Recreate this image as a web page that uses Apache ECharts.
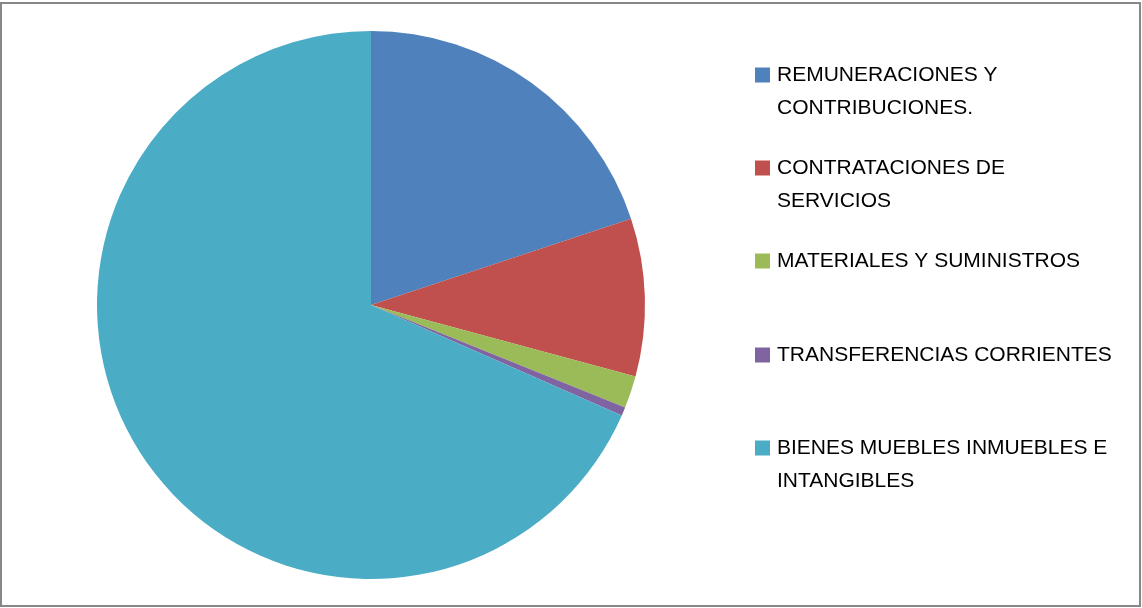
<!DOCTYPE html>
<html><head><meta charset="utf-8">
<script src="https://cdn.jsdelivr.net/npm/echarts@6/dist/echarts.min.js"></script>
<style>html,body{margin:0;padding:0;background:#fff}#c{width:1142px;height:608px}</style>
</head><body><div id="c"></div>
<script>
const categories = ['REMUNERACIONES Y CONTRIBUCIONES.', 'CONTRATACIONES DE SERVICIOS', 'MATERIALES Y SUMINISTROS', 'TRANSFERENCIAS CORRIENTES', 'BIENES MUEBLES INMUEBLES E INTANGIBLES'];
const values = [19.9, 9.3, 1.9, 0.5, 68.4];
const colors = ['#4F81BD', '#C0504D', '#9BBB59', '#8064A2', '#4BACC6'];
const firstLines = ['REMUNERACIONES Y', 'CONTRATACIONES DE', 'MATERIALES Y SUMINISTROS', 'TRANSFERENCIAS CORRIENTES', 'BIENES MUEBLES INMUEBLES E'];
const secondLines = ['CONTRIBUCIONES.', 'SERVICIOS', '', '', 'INTANGIBLES'];
const legendTops = [75, 168, 261, 355, 448];

const FF = '"Liberation Sans", Arial, sans-serif';
const FS = 21;
const chart = echarts.init(document.getElementById('c'));
const legends = categories.map((c, i) => ({
  data: [c], left: 755, top: legendTops[i] - 11, orient: 'vertical',
  itemWidth: 15, itemHeight: 15, itemGap: 0, icon: 'rect', selectedMode: false,
  padding: 0,
  formatter: () => firstLines[i],
  textStyle: {fontFamily: FF, fontSize: FS, color: '#000', lineHeight: 22, padding: [0, 0, 0, 2]}
}));
const graphics = [{type: 'rect', shape: {x: 1, y: 3, width: 1139, height: 603}, style: {fill: 'none', stroke: '#878787', lineWidth: 2}, silent: true}];
secondLines.forEach((t, i) => {
  if (t) graphics.push({type: 'text', left: 777, top: legendTops[i] + 33 - 11, style: {text: t, fill: '#000', fontFamily: FF, fontSize: FS, lineHeight: 22}});
});
chart.setOption({
  animation: false,
  backgroundColor: '#fff',
  color: colors,
  legend: legends,
  graphic: graphics,
  series: [{
    type: 'pie', center: [371, 305], radius: 274, startAngle: 90, clockwise: true,
    label: {show: false}, labelLine: {show: false},
    itemStyle: {borderWidth: 0},
    data: categories.map((c, i) => ({name: c, value: values[i]}))
  }]
});
</script></body></html>
